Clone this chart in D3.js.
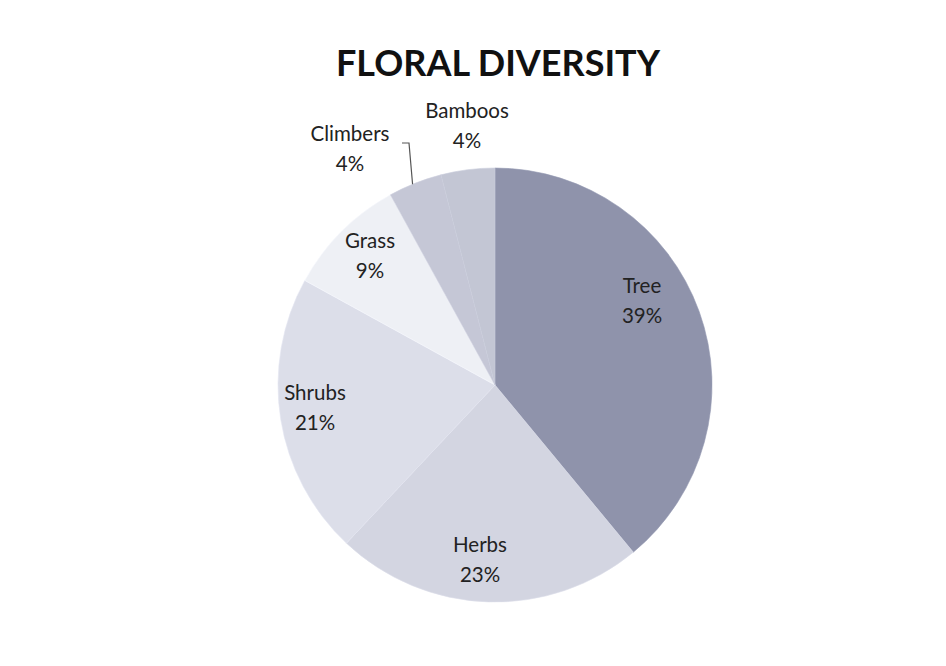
<!DOCTYPE html>
<html><head><meta charset="utf-8">
<script src="https://cdn.jsdelivr.net/npm/d3@7"></script>
<style>body{margin:0;background:#fff}svg{display:block}text{font-family:Lato,"Open Sans",sans-serif}</style>
</head><body>
<svg id="c" width="946" height="666"></svg>
<script>
const categories = ["Tree","Herbs","Shrubs","Grass","Climbers","Bamboos"];
const values = [39,23,21,9,4,4];
const colors = ["#8f93ab","#d3d5e1","#dcdee9","#eef0f5","#c5c7d6","#c3c6d4"];
const labelPos = [[642,301],[480,560],[315,408],[370,256],[350,149],[467,126]];

const svg = d3.select("#c");
const cx = 495, cy = 385, R = 217;
svg.append("text").attr("x",498).attr("y",76).attr("text-anchor","middle")
  .attr("font-size",36).attr("font-weight","bold").attr("fill","#111").text("FLORAL DIVERSITY");

const data = categories.map((c,i)=>({cat:c,val:values[i],col:colors[i],lp:labelPos[i]}));
const pie = d3.pie().value(d=>d.val).sort(null);
const arc = d3.arc().innerRadius(0).outerRadius(R);
const g = svg.append("g").attr("transform",`translate(${cx},${cy})`);
const arcs = pie(data);
g.selectAll("path").data(arcs).join("path").attr("d",arc).attr("fill",d=>d.data.col)
  .attr("stroke",d=>d3.color(d.data.col).brighter(0.1)).attr("stroke-width",0.6);

// Leader line for Climbers
const cl = arcs[4];
const a = cl.startAngle + (cl.endAngle-cl.startAngle)*0.45;
const px = cx + Math.sin(a)*R, py = cy - Math.cos(a)*R;
svg.append("path").attr("d",`M402,143 L409,143 L${px},${py}`).attr("fill","none").attr("stroke","#555").attr("stroke-width",1.2);

const lg = svg.append("g");
data.forEach(d=>{
  lg.append("text").attr("x",d.lp[0]).attr("y",d.lp[1]-8).attr("text-anchor","middle")
    .attr("font-size",20.5).attr("fill","#222").text(d.cat);
  lg.append("text").attr("x",d.lp[0]).attr("y",d.lp[1]+22).attr("text-anchor","middle")
    .attr("font-size",20.5).attr("fill","#222").text(d.val+"%");
});
</script>
</body></html>
